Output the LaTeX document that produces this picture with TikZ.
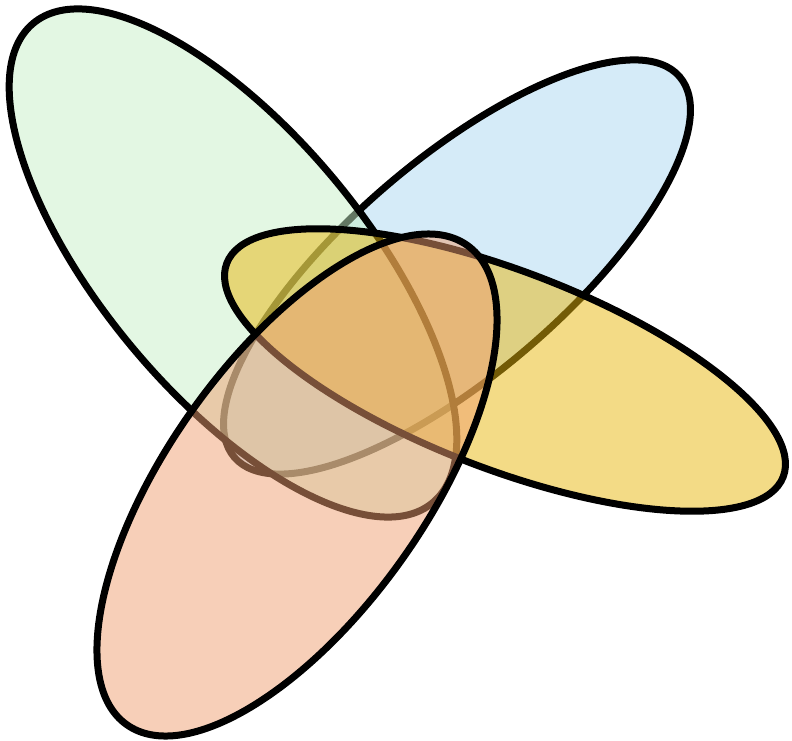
\documentclass[tikz,border=0pt]{standalone}
\definecolor{vgreen}{RGB}{199,239,199}
\definecolor{vblue}{RGB}{171,215,241}
\definecolor{vyellow}{RGB}{231,183,13}
\definecolor{vred}{RGB}{239,159,113}
\tikzset{vennset/.style={draw=black, line width=7pt, fill opacity=0.5}}
\begin{document}
\begin{tikzpicture}[x=1pt,y=1pt]
\useasboundingbox (0,0) rectangle (792,741);
% blue (bottom layer)
\coordinate (cb) at (457,474);
\draw[vennset, fill=vblue, rotate around={40.5:(cb)}] (cb) ellipse [x radius=292.9pt, y radius=107.5pt];
% green
\coordinate (cg) at (233,478);
\draw[vennset, fill=vgreen, rotate around={-50.2:(cg)}] (cg) ellipse [x radius=312pt, y radius=131.4pt];
% yellow
\coordinate (cy) at (505,371);
\draw[vennset, fill=vyellow, rotate around={-21:(cy)}] (cy) ellipse [x radius=298pt, y radius=99pt];
% red (top layer)
\coordinate (cr) at (297,256);
\draw[vennset, fill=vred, rotate around={54.6:(cr)}] (cr) ellipse [x radius=294pt, y radius=128.7pt];
\end{tikzpicture}
\end{document}
